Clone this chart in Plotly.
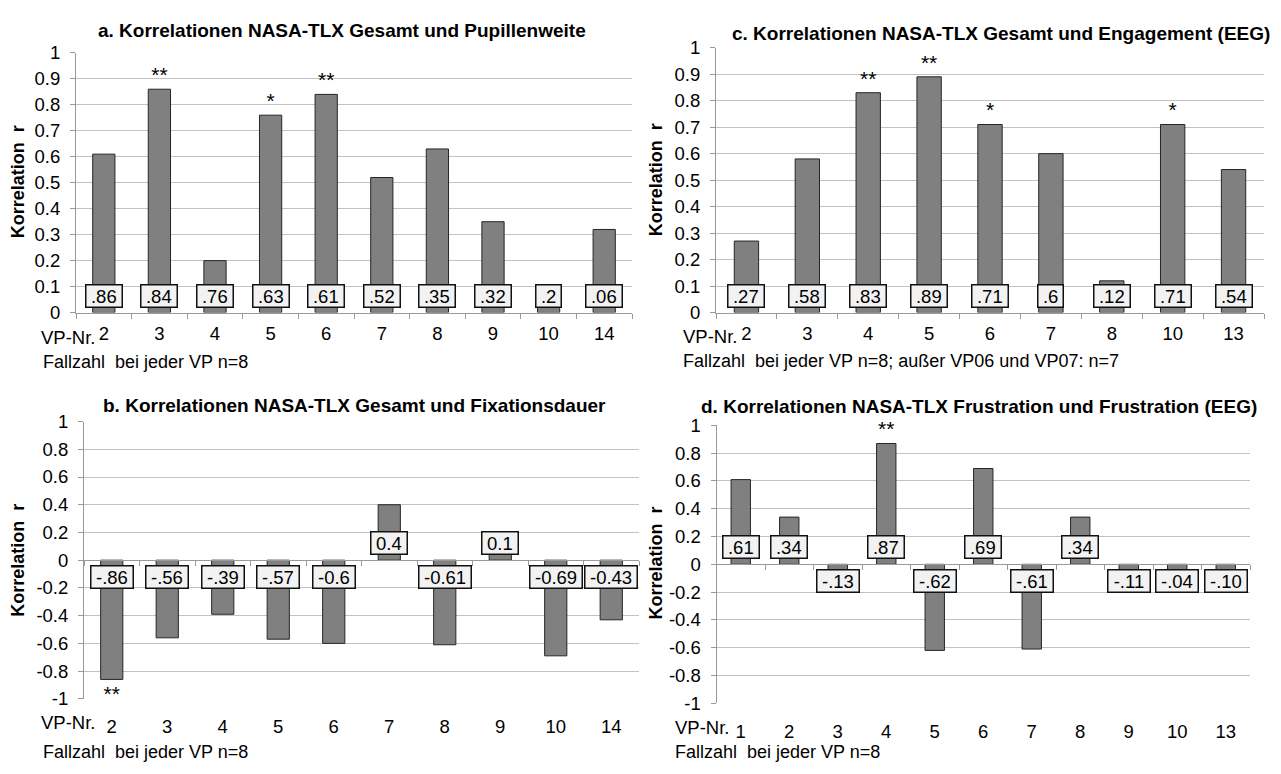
import plotly.graph_objects as go

W, H = 1281, 774

# a. NASA-TLX Gesamt vs. Pupillenweite
a_vp = ["2", "3", "4", "5", "6", "7", "8", "9", "10", "14"]
a_r = [0.61, 0.86, 0.20, 0.76, 0.84, 0.52, 0.63, 0.35, 0.06, 0.32]
a_sig = ["", "**", "", "*", "**", "", "", "", "", ""]

# b. NASA-TLX Gesamt vs. Fixationsdauer
b_vp = ["2", "3", "4", "5", "6", "7", "8", "9", "10", "14"]
b_r = [-0.86, -0.56, -0.39, -0.57, -0.60, 0.40, -0.61, 0.10, -0.69, -0.43]
b_sig = ["**", "", "", "", "", "", "", "", "", ""]
b_lbl = ["-.86", "-.56", "-.39", "-.57", "-0.6", "0.4", "-0.61", "0.1", "-0.69", "-0.43"]

# c. NASA-TLX Gesamt vs. Engagement (EEG)
c_vp = ["2", "3", "4", "5", "6", "7", "8", "10", "13"]
c_r = [0.27, 0.58, 0.83, 0.89, 0.71, 0.60, 0.12, 0.71, 0.54]
c_sig = ["", "", "**", "**", "*", "", "", "*", ""]

# d. NASA-TLX Frustration vs. Frustration (EEG)
d_vp = ["1", "2", "3", "4", "5", "6", "7", "8", "9", "10", "13"]
d_r = [0.61, 0.34, -0.13, 0.87, -0.62, 0.69, -0.61, 0.34, -0.11, -0.04, -0.10]
d_sig = ["", "", "", "**", "", "", "", "", "", "", ""]

pos_ticks = [round(k * 0.1, 1) for k in range(11)]
sym_ticks = [round(-1 + k * 0.2, 1) for k in range(11)]


def no_lead_zero(s):
    return s.replace("0.", ".", 1) if s.lstrip("-").startswith("0.") else s


def short(v):
    return no_lead_zero(f"{v:.2f}".rstrip("0").rstrip("."))


def two_dec(v):
    return no_lead_zero(f"{v:.2f}")


a_lbl = [short(v) for v in sorted(a_r, reverse=True)]
c_lbl = [short(v) for v in c_r]
d_lbl = [two_dec(v) for v in d_r]

FONT = "Arial, 'Liberation Sans', sans-serif"
NOTE8 = "Fallzahl\u00a0 bei jeder VP n=8"
FS = 18.5

# Arial advance widths (em) for the characters used in the value boxes
ADV = {".": 0.278, "-": 0.333}


def box_width(t):
    return sum(ADV.get(ch, 0.556) for ch in t) * FS + 8


panels = [
    dict(vp=a_vp, r=a_r, sig=a_sig, lbl=a_lbl, xd=(76, 632), yd=(43, 310), ticks=pos_ticks,
         title="a. Korrelationen NASA-TLX Gesamt und Pupillenweite", tpos=(342, 20),
         note=NOTE8, npos=(41, 361), vpos=(39, 336), ypos=(18, 176)),
    dict(vp=b_vp, r=b_r, sig=b_sig, lbl=b_lbl, xd=(84, 639), yd=(422, 707), ticks=sym_ticks,
         title="b. Korrelationen NASA-TLX Gesamt und Fixationsdauer", tpos=(355, 405),
         note=NOTE8, npos=(41, 774), vpos=(39, 731), ypos=(18, 565)),
    dict(vp=c_vp, r=c_r, sig=c_sig, lbl=c_lbl, xd=(716, 1264), yd=(37.7, 310), ticks=pos_ticks,
         title="c. Korrelationen NASA-TLX Gesamt und Engagement (EEG)", tpos=(1001, 23),
         note="Fallzahl\u00a0 bei jeder VP n=8; außer VP06 und VP07: n=7", npos=(681, 360),
         vpos=(681, 335), ypos=(656, 174)),
    dict(vp=d_vp, r=d_r, sig=d_sig, lbl=d_lbl, xd=(716.5, 1250), yd=(426, 711.5), ticks=sym_ticks,
         title="d. Korrelationen NASA-TLX Frustration und Frustration (EEG)", tpos=(979, 407),
         note=NOTE8, npos=(673, 774), vpos=(673, 736), ypos=(656, 568)),
]

GRID = "#c2c2c2"
AXIS = "#9a9a9a"

fig = go.Figure()
layout = dict(
    width=W, height=H, margin=dict(l=0, r=0, t=0, b=0),
    paper_bgcolor="white", plot_bgcolor="white", showlegend=False,
    font=dict(family=FONT, size=FS, color="black"),
)
annotations = []

for i, p in enumerate(panels, start=1):
    n = len(p["vp"])
    xdom = [p["xd"][0] / W, p["xd"][1] / W]
    ydom = [1 - p["yd"][1] / H, 1 - p["yd"][0] / H]
    lo, hi = p["ticks"][0], p["ticks"][-1]
    symmetric = lo < 0

    fig.add_trace(go.Bar(
        x=p["vp"], y=p["r"], xaxis=f"x{i}", yaxis=f"y{i}", width=0.4,
        marker=dict(color="#808080", line=dict(color="#262626", width=1)),
        text=p["sig"], textposition="outside", constraintext="none",
        textfont=dict(size=21, color="black", family=FONT),
        cliponaxis=False, hoverinfo="skip",
    ))

    layout[f"xaxis{i}"] = dict(
        domain=xdom, anchor=f"y{i}", type="category", categoryorder="array",
        categoryarray=p["vp"], range=[-0.5, n - 0.5], showgrid=False,
        showline=not symmetric, linecolor=AXIS, linewidth=1,
        ticks="" if symmetric else "outside", tickson="boundaries",
        ticklen=5, tickcolor=AXIS, ticklabelstandoff=15 if symmetric else 4,
        tickfont=dict(size=FS), fixedrange=True,
    )
    layout[f"yaxis{i}"] = dict(
        domain=ydom, anchor=f"x{i}", range=[lo, hi], tickmode="array",
        tickvals=p["ticks"], ticktext=[f"{v:g}" for v in p["ticks"]],
        showgrid=True, gridcolor=GRID, gridwidth=1, zeroline=False,
        showline=True, linecolor=AXIS, linewidth=1, ticks="outside",
        ticklen=5, tickcolor=AXIS, ticklabelstandoff=6,
        tickfont=dict(size=FS), fixedrange=True,
    )

    if symmetric:
        # axis line with category ticks drawn along r = 0
        j = i + 4
        zero_frac = ydom[0] + (ydom[1] - ydom[0]) * (0 - lo) / (hi - lo)
        fig.add_trace(go.Scatter(
            x=p["vp"], y=p["r"], xaxis=f"x{j}", yaxis=f"y{i}", mode="markers",
            marker=dict(opacity=0), hoverinfo="skip",
        ))
        layout[f"xaxis{j}"] = dict(
            overlaying=f"x{i}", anchor="free", position=zero_frac, type="category",
            categoryorder="array", categoryarray=p["vp"], range=[-0.5, n - 0.5],
            showgrid=False, showline=True, linecolor=AXIS, linewidth=1,
            ticks="outside", tickson="boundaries", ticklen=5, tickcolor=AXIS,
            showticklabels=False, fixedrange=True,
        )

    # value boxes near the zero line (x given as category index)
    for k, (v, t) in enumerate(zip(p["r"], p["lbl"])):
        annotations.append(dict(
            x=k, y=0, xref=f"x{i}", yref=f"y{i}", text=t, showarrow=False,
            yshift=17 if v >= 0 else -17, font=dict(size=FS, color="black"),
            width=box_width(t), height=20, align="center", valign="middle",
            bgcolor="#f2f2f2", bordercolor="#111111", borderwidth=1.5, borderpad=0.5,
        ))

    annotations.append(dict(
        x=p["tpos"][0] / W, y=1 - p["tpos"][1] / H, xref="paper", yref="paper",
        text=f"<b>{p['title']}</b>", showarrow=False, xanchor="center", yanchor="middle",
        font=dict(size=19),
    ))
    annotations.append(dict(
        x=p["ypos"][0] / W, y=1 - p["ypos"][1] / H, xref="paper", yref="paper",
        text="<b>Korrelation\u00a0 r</b>", textangle=-90, showarrow=False,
        xanchor="center", yanchor="middle", font=dict(size=18),
    ))
    annotations.append(dict(
        x=p["vpos"][0] / W, y=1 - p["vpos"][1] / H, xref="paper", yref="paper",
        text="VP-Nr.", showarrow=False, xanchor="left", yanchor="middle",
        font=dict(size=FS),
    ))
    bottom = p["npos"][1] >= H
    annotations.append(dict(
        x=p["npos"][0] / W, y=1 - p["npos"][1] / H, xref="paper", yref="paper",
        text=p["note"], showarrow=False, xanchor="left",
        yanchor="bottom" if bottom else "middle",
        font=dict(size=18),
    ))

layout["annotations"] = annotations
fig.update_layout(**layout)
fig.write_html("out.html")
